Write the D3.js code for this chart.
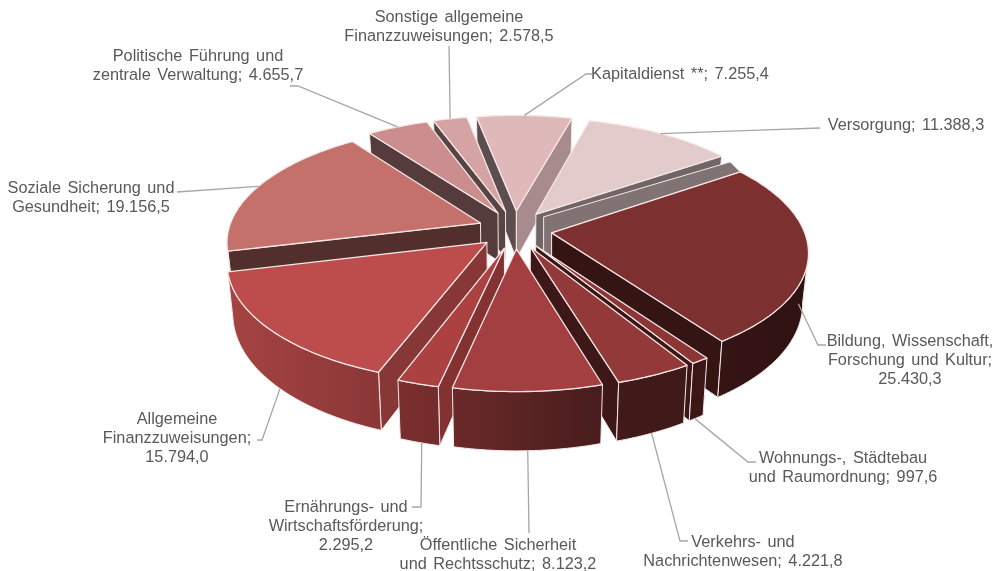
<!DOCTYPE html>
<html>
<head>
<meta charset="utf-8">
<script src="https://cdn.jsdelivr.net/npm/d3@7"></script>
<style>
  html, body { margin: 0; padding: 0; background: #fff; }
  svg { display: block; filter: blur(0.35px); }
  text { font-family: "Liberation Sans", Arial, sans-serif; font-size: 16.3px; fill: #595959; word-spacing: 2px; }
</style>
</head>
<body>
<script>
// values in clockwise order, starting with the first slice right of the top
var categories = [
    "Versorgung", "Bildung, Wissenschaft, Forschung und Kultur", "Wohnungs-, Städtebau und Raumordnung",
    "Verkehrs- und Nachrichtenwesen", "Öffentliche Sicherheit und Rechtsschutz", "Ernährungs- und Wirtschaftsförderung",
    "Allgemeine Finanzzuweisungen", "Soziale Sicherung und Gesundheit", "Politische Führung und zentrale Verwaltung",
    "Sonstige allgemeine Finanzzuweisungen", "Kapitaldienst **"
];
var values = [11388.3, 25430.3, 997.6, 4221.8, 8123.2, 2295.2, 15794.0, 19156.5, 4655.7, 2578.5, 7255.4];
var labelLines = [
    ["Versorgung; 11.388,3"],
    ["Bildung, Wissenschaft,", "Forschung und Kultur;", "25.430,3"],
    ["Wohnungs-, Städtebau", "und Raumordnung; 997,6"],
    ["Verkehrs- und", "Nachrichtenwesen; 4.221,8"],
    ["Öffentliche Sicherheit", "und Rechtsschutz; 8.123,2"],
    ["Ernährungs- und", "Wirtschaftsförderung;", "2.295,2"],
    ["Allgemeine", "Finanzzuweisungen;", "15.794,0"],
    ["Soziale Sicherung und", "Gesundheit; 19.156,5"],
    ["Politische Führung und", "zentrale Verwaltung; 4.655,7"],
    ["Sonstige allgemeine", "Finanzzuweisungen; 2.578,5"],
    ["Kapitaldienst **; 7.255,4"]
];
var colors = ["#e3cacb", "#7d3030", "#8b3535", "#93393a", "#a33f40", "#ac4141", "#bd4c4c", "#c4716c", "#cb8d8d", "#d5a3a3", "#dfb8ba"];

// label placement: [centre x, first baseline]
var labelPos = [[906, 130], [910, 346], [843, 463], [743, 547], [498, 550], [346, 512], [177, 424], [91, 193], [198, 61], [449, 22], [680, 79]];
// leader: where on the slice it starts [share of slice angle, share of wall height], then the way to the label
var leaderFrom = [[.5, 0], [.65, .41], [.6, 1], [.5, 1], [.5, 1], [.45, 1], [.475, 1], [.5, 0], [.5, 0], [.5, 0], [.5, 0]];
var leaderTo = [
    [[820, 128]],
    [[818, 345], [826, 345]],
    [[748, 462], [756, 462]],
    [[680, 541], [688, 541]],
    [[529, 533]],
    [[421, 507], [412, 507]],
    [[262, 440], [257, 440]],
    [[177, 192]],
    [[298, 86], [290, 86]],
    [[449, 46]],
    [[586, 74], [592, 74]]
];

var width = 995, height = 571;
var cx = 515, cy = 229.5, rx = 252, ry = 115;
var explodeX = 0.147, explodeY = 0.165, persp = 0.149, depth = 49, bottomScale = 0.98;
var edge = "#f6e8e8";

var x = d3.scaleLinear().domain([-1, 1]).range([cx - rx, cx + rx]);
var y = d3.scaleLinear().domain([-1, 1]).range([cy - ry, cy + ry]);
// shade of the outer wall runs along the screen, cut faces go by their normal
var wallShade = d3.scaleLinear().domain([228, 380, 450, 525, 603, 720, 808]).range([.88, .73, .66, .55, .45, .42, .38]);
var faceShade = d3.scaleLinear().domain([-1, .3, .82, .97]).range([.42, .42, .57, .76]).clamp(true);
var path = d3.line();

var pie = d3.pie().sort(null).startAngle(15 * Math.PI / 180).endAngle(375 * Math.PI / 180);
var arcs = pie(values);

var svg = d3.select("body").append("svg").attr("width", width).attr("height", height);
var defs = svg.append("defs");

function project(X, Y) {
    var k = 1 / (1 - persp * Y);
    return [x(X * k), y(Y * k)];
}
function drop(X, Y, d) {
    var p = project(X, Y), k = 1 / (1 - persp * Y);
    return [cx + (p[0] - cx) * (1 - (1 - bottomScale) * d), p[1] + depth * k * d];
}
function shade(color, f) {
    var c = d3.rgb(color);
    return d3.rgb(c.r * f, c.g * f, c.b * f).formatHex();
}
function apex(a) {
    var mid = (a.startAngle + a.endAngle) / 2;
    return [explodeX * Math.sin(mid), -explodeY * Math.cos(mid)];
}
function rim(a, ang) {
    var o = apex(a);
    return [o[0] + Math.sin(ang), o[1] - Math.cos(ang)];
}
function drawFace(g, a, ang, fill) {
    var o = apex(a), r = rim(a, ang);
    g.append("path")
        .attr("d", path([project(o[0], o[1]), project(r[0], r[1]), drop(r[0], r[1], 1), drop(o[0], o[1], 1)]) + "Z")
        .attr("fill", fill).attr("stroke", edge).attr("stroke-width", 1);
}

arcs.forEach(function(a, i) {
    var g = defs.append("linearGradient").attr("id", "wall" + i)
        .attr("gradientUnits", "userSpaceOnUse").attr("x1", 228).attr("x2", 808).attr("y1", 0).attr("y2", 0);
    wallShade.domain().forEach(function(px) {
        g.append("stop").attr("offset", (px - 228) / 580).attr("stop-color", shade(colors[i], wallShade(px)));
    });
});

// back to front
var order = d3.range(arcs.length).sort(function(p, q) { return apex(arcs[p])[1] - apex(arcs[q])[1]; });

order.forEach(function(i) {
    var a = arcs[i], o = apex(a), g = svg.append("g").attr("class", "slice");
    var n = Math.max(2, Math.ceil((a.endAngle - a.startAngle) / 0.02));
    var angles = d3.range(n + 1).map(function(t) { return a.startAngle + (a.endAngle - a.startAngle) * t / n; });

    // start face has its outward normal on the smaller angle side, end face on the larger
    [[a.startAngle, -1], [a.endAngle, 1]].forEach(function(f) {
        var nx = Math.cos(f[0]) * f[1], ny = Math.sin(f[0]) * f[1];
        // seen from the camera?
        if ((0 - o[0]) * nx + (1 / persp - o[1]) * ny > 0) drawFace(g, a, f[0], shade(colors[i], faceShade(nx)));
    });

    // outer wall, only the part turned to the viewer
    var front = angles.filter(function(t) { return Math.cos(t) < -0.15; });
    if (front.length > 1) {
        var topEdge = front.map(function(t) { var r = rim(a, t); return project(r[0], r[1]); });
        var botEdge = front.map(function(t) { var r = rim(a, t); return drop(r[0], r[1], 1); }).reverse();
        g.append("path").attr("d", path(topEdge.concat(botEdge)) + "Z")
            .attr("fill", "url(#wall" + i + ")").attr("stroke", edge).attr("stroke-width", 1);
    }

    // the grey strip that shows behind the big slice
    if (i === 1) {
        var s0 = project(o[0], o[1]), s1 = rim(a, a.startAngle), s2 = project(s1[0], s1[1]);
        var strip = [[s0[0] - 8, s0[1] - 16], [s2[0] - 10, s2[1] - 10], s2, s0, [s0[0], s0[1] + 34], [s0[0] - 8, s0[1] + 34]];
        g.append("path").attr("d", path(strip) + "Z")
            .attr("fill", shade(colors[0], .57)).attr("stroke", edge).attr("stroke-width", 1);
    }

    var top = [project(o[0], o[1])].concat(angles.map(function(t) { var r = rim(a, t); return project(r[0], r[1]); }));
    g.append("path").attr("d", path(top) + "Z")
        .attr("fill", colors[i]).attr("stroke", edge).attr("stroke-width", 1.3).attr("stroke-linejoin", "round");
});

// leaders
arcs.forEach(function(a, i) {
    var from = leaderFrom[i];
    var r = rim(a, a.startAngle + (a.endAngle - a.startAngle) * from[0]);
    var pts = [drop(r[0], r[1], from[1])].concat(leaderTo[i]);
    svg.append("path").attr("d", path(pts)).attr("fill", "none").attr("stroke", "#a6a6a6").attr("stroke-width", 1.3);
});

// labels
labelLines.forEach(function(lines, i) {
    var t = svg.append("text").attr("text-anchor", "middle");
    lines.forEach(function(s, j) {
        t.append("tspan").attr("x", labelPos[i][0]).attr("y", labelPos[i][1] + j * 19).text(s);
    });
});
</script>
</body>
</html>
